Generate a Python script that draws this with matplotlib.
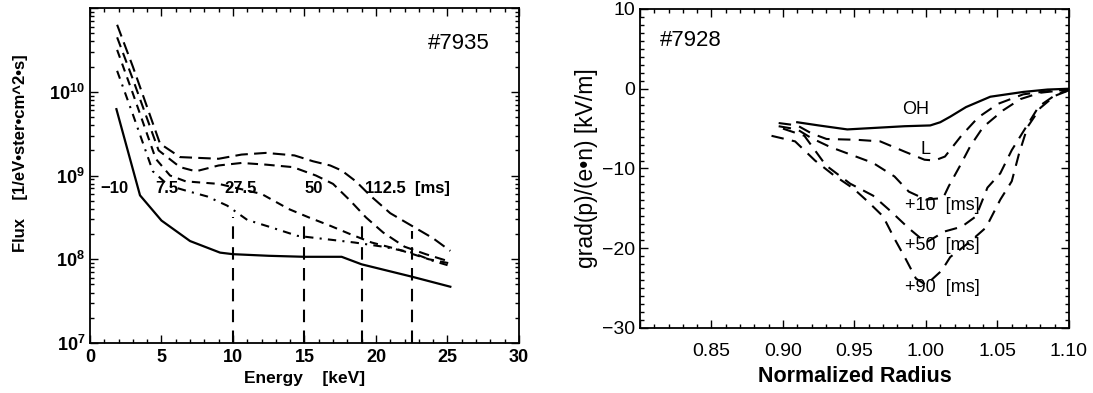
import numpy as np
import matplotlib
matplotlib.use("Agg")
import matplotlib.pyplot as plt
from matplotlib.ticker import MultipleLocator, LogLocator, NullFormatter, FixedLocator

plt.rcParams["font.family"] = ["Liberation Sans", "DejaVu Sans"]
plt.rcParams["mathtext.fontset"] = "custom"
plt.rcParams["mathtext.rm"] = "Liberation Sans"
plt.rcParams["mathtext.bf"] = "Liberation Sans:bold"

# ---- left panel: energy spectra (#7935) ----
e_m10 = [1.85, 3.5, 5.0, 7.0, 9.1, 10.0, 12.5, 15.0, 17.6, 19.0, 22.5, 25.2]
flux_m10 = [6.2e9, 5.8e8, 2.9e8, 1.65e8, 1.2e8, 1.15e8, 1.1e8, 1.07e8, 1.07e8, 8.7e7, 6.2e7, 4.7e7]

e_7p5 = [1.9, 3.0, 4.4, 5.5, 6.7, 8.2, 9.6, 11.0, 12.5, 14.5, 16.5, 18.5, 20.5, 22.5, 24.0, 25.2]
log_7p5 = [10.25, 9.73, 9.05, 8.88, 8.82, 8.75, 8.64, 8.47, 8.39, 8.28, 8.24, 8.20, 8.15, 8.08, 7.98, 7.92]

e_27p5 = [1.9, 3.0, 4.6, 5.6, 6.7, 9.0, 12.0, 13.9, 15.3, 16.8, 18.2, 19.7, 21.5, 23.7, 25.2]
log_27p5 = [10.5, 9.98, 9.2, 9.0, 8.93, 8.9, 8.78, 8.6, 8.5, 8.4, 8.3, 8.2, 8.12, 8.0, 7.95]

e_50 = [1.9, 3.0, 4.8, 6.3, 7.4, 9.0, 10.6, 12.3, 14.2, 15.8, 17.0, 18.2, 19.3, 20.5, 22.0, 23.5, 25.0]
log_50 = [10.65, 10.15, 9.3, 9.1, 9.05, 9.12, 9.15, 9.13, 9.1, 9.0, 8.9, 8.7, 8.5, 8.32, 8.15, 8.06, 7.98]

e_112 = [1.9, 3.0, 4.9, 6.3, 9.0, 10.6, 12.3, 14.3, 15.6, 16.8, 17.6, 18.6, 19.6, 21.0, 22.5, 24.0, 25.2]
log_112 = [10.8, 10.3, 9.38, 9.22, 9.2, 9.25, 9.27, 9.24, 9.17, 9.12, 9.06, 8.93, 8.76, 8.55, 8.4, 8.25, 8.1]

vline_e = [10.0, 15.0, 19.0, 22.5]
vline_top = [3.2e8, 2.6e8, 2.8e8, 2.2e8]

time_labels = ["\u221210", "7.5", "27.5", "50", "112.5  [ms]"]
time_label_x = [0.7, 4.6, 9.4, 15.0, 19.2]

# ---- right panel: grad(p)/(e n) profiles (#7928) ----
r_oh = [0.910, 0.925, 0.945, 0.965, 0.985, 1.003, 1.010, 1.017, 1.028, 1.045, 1.068, 1.085, 1.100]
g_oh = [-4.2, -4.6, -5.1, -4.9, -4.7, -4.6, -4.2, -3.5, -2.3, -1.0, -0.4, -0.1, 0.0]

r_l = [0.897, 0.910, 0.920, 0.9305, 0.9516, 0.968, 0.9853, 0.999, 1.006, 1.0133, 1.0247, 1.0365, 1.0503, 1.068, 1.085, 1.100]
g_l = [-4.3, -4.6, -5.6, -6.3, -6.4, -6.6, -7.9, -8.9, -9.0, -8.5, -5.9, -3.6, -1.9, -0.7, -0.3, -0.1]

r_10 = [0.897, 0.910, 0.920, 0.933, 0.948, 0.963, 0.978, 0.988, 1.000, 1.012, 1.016, 1.024, 1.031, 1.040, 1.054, 1.066, 1.080, 1.100]
g_10 = [-4.7, -5.1, -6.2, -7.3, -8.3, -9.3, -11.0, -12.9, -13.9, -13.7, -12.2, -9.6, -7.2, -4.8, -2.7, -1.3, -0.5, -0.1]

r_50 = [0.900, 0.915, 0.930, 0.947, 0.963, 0.975, 0.988, 1.000, 1.013, 1.025, 1.035, 1.043, 1.052, 1.060, 1.069, 1.079, 1.092, 1.100]
g_50 = [-5.0, -5.9, -9.6, -11.9, -13.4, -15.3, -17.5, -19.3, -17.9, -17.3, -16.0, -12.4, -10.6, -7.7, -5.1, -2.2, -0.6, -0.2]

r_90 = [0.892, 0.9085, 0.9224, 0.9352, 0.9492, 0.9597, 0.970, 0.978, 0.986, 0.993, 1.000, 1.011, 1.017, 1.030, 1.042, 1.052, 1.060, 1.065, 1.071, 1.080, 1.090, 1.100]
g_90 = [-5.9, -6.6, -9.0, -10.8, -12.5, -14.2, -16.0, -18.8, -21.4, -23.8, -24.6, -22.8, -21.1, -19.3, -17.4, -13.9, -11.6, -8.2, -4.8, -2.4, -0.9, -0.2]

profile_labels = ["OH", "L", "+10  [ms]", "+50  [ms]", "+90  [ms]"]
profile_label_x = [0.983, 0.996, 0.985, 0.985, 0.985]
profile_label_y = [-2.6, -7.6, -14.6, -19.7, -24.9]


def style_axes(ax):
    for s in ax.spines.values():
        s.set_linewidth(1.3)
    ax.tick_params(which="both", direction="in", top=True, right=True, width=1.0)
    ax.tick_params(which="major", length=6)
    ax.tick_params(which="minor", length=3)


fig = plt.figure(figsize=(10.93, 3.93), dpi=100)

# left panel
ax1 = fig.add_axes([0.0823, 0.1272, 0.3925, 0.8524])
ax1.plot(e_m10, flux_m10, color="black", lw=1.6)
for e, lg, dash in [
    (e_7p5, log_7p5, (4, 3, 1, 3)),
    (e_27p5, log_27p5, (4, 3)),
    (e_50, log_50, (5, 3)),
    (e_112, log_112, (6, 3)),
]:
    ax1.plot(e, 10 ** np.array(lg), color="black", lw=1.5, dashes=dash)
for x, top in zip(vline_e, vline_top):
    ax1.plot([x, x], [1e7, top], color="black", lw=1.5, dashes=(6, 4))

ax1.set_xlim(0, 30)
ax1.set_yscale("log")
ax1.set_ylim(1e7, 1e11)
ax1.xaxis.set_major_locator(MultipleLocator(5))
ax1.xaxis.set_minor_locator(MultipleLocator(1))
ax1.yaxis.set_major_locator(FixedLocator([1e7, 1e8, 1e9, 1e10, 1e11]))
ax1.set_yticklabels([r"$\mathbf{10^{7}}$", r"$\mathbf{10^{8}}$", r"$\mathbf{10^{9}}$",
                     r"$\mathbf{10^{10}}$", ""], fontsize=13)
ax1.yaxis.set_minor_locator(LogLocator(base=10, subs=np.arange(2, 10)))
ax1.yaxis.set_minor_formatter(NullFormatter())
ax1.set_xticks([0, 5, 10, 15, 20, 25, 30])
ax1.set_xticklabels(["0", "5", "10", "15", "20", "25", "30"], fontsize=13, fontweight="bold")
style_axes(ax1)
ax1.tick_params(axis="x", pad=4)
ax1.set_xlabel("Energy    [keV]", fontsize=12.5, fontweight="bold", labelpad=4)
fig.text(0.019, 0.61, "Flux    [1/eV\u2022ster\u2022cm^2\u2022s]", rotation=90,
         ha="center", va="center", fontsize=12, fontweight="bold")
ax1.text(23.6, 10 ** 10.58, "#7935", fontsize=16, va="center", ha="left")
for lab, x in zip(time_labels, time_label_x):
    ax1.text(x, 10 ** 8.85, lab, fontsize=12, fontweight="bold", va="center", ha="left")

# right panel
ax2 = fig.add_axes([0.5855, 0.1654, 0.3925, 0.8117])
ax2.plot(r_oh, g_oh, color="black", lw=1.6)
for r, g in [(r_l, g_l), (r_10, g_10), (r_50, g_50), (r_90, g_90)]:
    ax2.plot(r, g, color="black", lw=1.5, dashes=(6, 4))
ax2.set_xlim(0.80, 1.10)
ax2.set_ylim(-30, 10)
ax2.set_xticks([0.80, 0.85, 0.90, 0.95, 1.00, 1.05, 1.10])
ax2.set_xticklabels(["", "0.85", "0.90", "0.95", "1.00", "1.05", "1.10"], fontsize=14)
ax2.xaxis.set_minor_locator(MultipleLocator(0.01))
ax2.set_yticks([-30, -20, -10, 0, 10])
ax2.set_yticklabels(["\u221230", "\u221220", "\u221210", "0", "10"], fontsize=14)
ax2.yaxis.set_minor_locator(MultipleLocator(1))
style_axes(ax2)
ax2.tick_params(axis="x", pad=11)
ax2.set_xlabel("Normalized Radius", fontsize=15.5, fontweight="bold", labelpad=4)
ax2.set_ylabel("grad(p)/(e\u2022n) [kV/m]", fontsize=16.5, labelpad=3)
ax2.text(0.814, 6.1, "#7928", fontsize=16, va="center", ha="left")
for lab, x, y in zip(profile_labels, profile_label_x, profile_label_y):
    ax2.text(x, y, lab, fontsize=13, va="center", ha="left")

fig.savefig("out.png", dpi=100)
